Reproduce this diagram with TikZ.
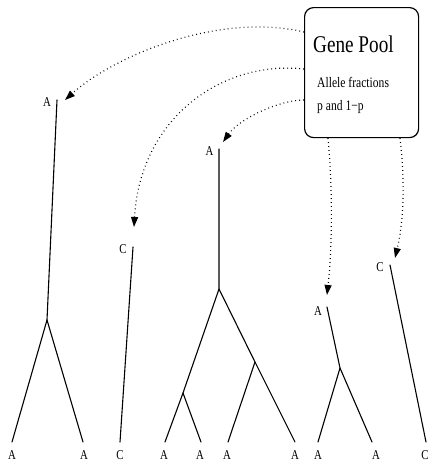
\documentclass[tikz,border=0pt]{standalone}
\usepackage{fontspec}
\setmainfont{Liberation Serif}
\newfontfamily\narrowserif[FakeStretch=0.8]{Liberation Serif}
\usetikzlibrary{arrows.meta}

\begin{document}
\begin{tikzpicture}[x=1pt,y=-1pt,
  branch/.style={line width=1.1pt, line cap=round},
  allele/.style={font=\narrowserif\fontsize{13.5}{13.5}\selectfont, inner sep=0pt, anchor=base},
  pooltext/.style={inner sep=0pt, anchor=base west},
  sample/.style={line width=1.2pt, dash pattern=on 0.8pt off 3.2pt,
                 -{Triangle[length=10pt,width=7pt]}},
  poolbox/.style={draw, line width=1.2pt, rounded corners=9pt}]

\useasboundingbox (0,0) rectangle (431,461);

% the gene pool
\node[poolbox, minimum width=114pt, minimum height=130pt, anchor=north west] (pool) at (304,7) {};
\node[pooltext, font=\narrowserif\fontsize{24}{24}\selectfont] (title) at (313,52) {Gene Pool};
\node[pooltext, font=\narrowserif\fontsize{14.5}{14.5}\selectfont] (frac) at (317,87) {Allele fractions};
\node[pooltext, font=\narrowserif\fontsize{14.5}{14.5}\selectfont] (pq) at (317,110) {p and 1−p};

% tree 1
\node[allele] (r1) at (47,106) {A};
\coordinate (t1) at (57,100);
\coordinate (b1) at (47,320);
\coordinate (l1a) at (12,442);
\coordinate (l1b) at (83,442);
\node[allele] (r1a) at (12,459) {A};
\node[allele] (r1b) at (84,459) {A};
\draw[branch] (t1) -- (b1) -- (l1a);
\draw[branch] (b1) -- (l1b);

% tree 2
\node[allele] (r2) at (123,253) {C};
\coordinate (t2) at (133,247);
\coordinate (l2) at (120,442);
\node[allele] (r2a) at (120,459) {C};
\draw[branch] (t2) -- (l2);

% tree 3
\node[allele] (r3) at (209.5,155) {A};
\coordinate (t3) at (219,149);
\coordinate (b3) at (219,289);
\coordinate (b3a) at (183,393);
\coordinate (b3b) at (255,362);
\coordinate (l3a) at (165,442);
\coordinate (l3b) at (201,442);
\coordinate (l3c) at (228,442);
\coordinate (l3d) at (295,442);
\node[allele] (r3a) at (164,459) {A};
\node[allele] (r3b) at (200,459) {A};
\node[allele] (r3c) at (227,459) {A};
\node[allele] (r3d) at (295,459) {A};
\draw[branch] (t3) -- (b3) -- (b3a) -- (l3a);
\draw[branch] (b3a) -- (l3b);
\draw[branch] (b3) -- (b3b) -- (l3d);
\draw[branch] (b3b) -- (l3c);

% tree 4
\node[allele] (r4) at (318,315) {A};
\coordinate (t4) at (327,307);
\coordinate (b4) at (340,368);
\coordinate (l4a) at (318,442);
\coordinate (l4b) at (372,442);
\node[allele] (r4a) at (318,459) {A};
\node[allele] (r4b) at (376,459) {A};
\draw[branch] (t4) -- (b4) -- (l4a);
\draw[branch] (b4) -- (l4b);

% tree 5
\node[allele] (r5) at (380,271) {C};
\coordinate (t5) at (390,265);
\coordinate (l5) at (426,442);
\node[allele] (r5a) at (425,459) {C};
\draw[branch] (t5) -- (l5);

% sampling arrows from the pool to each root
\coordinate (tip1) at (65,100);
\coordinate (tip2) at (134,227);
\coordinate (tip3) at (223,142);
\coordinate (tip4) at (327,295);
\coordinate (tip5) at (395,258);

\draw[sample] ([yshift=-25pt]pool.north west) .. controls (220,12) and (115,55) .. (tip1);
\draw[sample] ([yshift=-62pt]pool.north west) .. controls (220,60) and (140,120) .. (tip2);
\draw[sample] ([yshift=-93pt]pool.north west) .. controls (280,100) and (240,118) .. (tip3);
\draw[sample] ([xshift=24pt]pool.south west) .. controls (333,190) and (332,250) .. (tip4);
\draw[sample] ([xshift=96pt]pool.south west) .. controls (405,180) and (404,220) .. (tip5);
\end{tikzpicture}
\end{document}
